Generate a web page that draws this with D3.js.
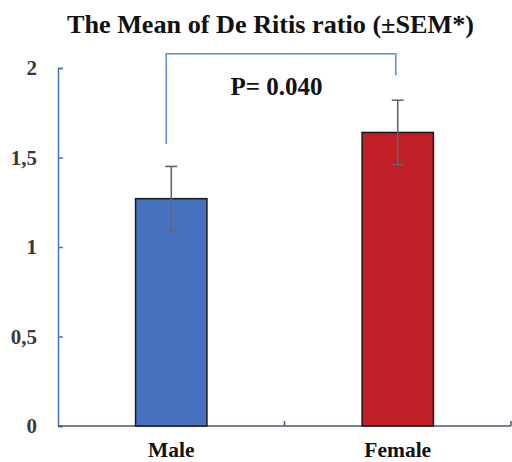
<!DOCTYPE html>
<html><head><meta charset="utf-8">
<script src="https://cdn.jsdelivr.net/npm/d3@7"></script>
<style>body{margin:0;background:#fff}svg{display:block}
text{font-family:"Liberation Serif","Times New Roman",Times,"DejaVu Serif",serif;font-weight:bold}</style>
</head><body>
<script>
const categories = ["Male", "Female"];
const means = [1.27, 1.64];
const sems = [0.18, 0.18];
const barColors = ["#4672c0", "#c01f27"];
const yTicks = [0, 0.5, 1, 1.5, 2];
const title = "The Mean of De Ritis ratio (\u00b1SEM*)";
const pLabel = "P= 0.040";
const bracketLevels = [1.575, 2.08, 1.96];

const W = 512, H = 462;
const svg = d3.select("body").append("svg").attr("width", W).attr("height", H);

const x = d3.scaleBand().domain(categories).range([58, 511]).padding(0);
const y = d3.scaleLinear().domain([0, 2]).range([426, 68]);
const loc = d3.formatLocale({decimal: ",", thousands: ".", grouping: [3], currency: ["", ""]});
const fmt = loc.format("~g");

// title
svg.append("text").attr("x", 270.5).attr("y", 33).attr("text-anchor", "middle")
  .style("font-size", "26.2px").attr("fill", "#111").text(title);

// y axis
const yAxis = svg.append("g").attr("transform", `translate(${x.range()[0]},0)`)
  .call(d3.axisLeft(y).tickValues(yTicks).tickSize(-5).tickPadding(21).tickFormat(fmt));
yAxis.attr("font-family", null).attr("font-size", null);
yAxis.select(".domain").attr("stroke", "#4472c4").attr("stroke-width", 1.5);
yAxis.selectAll(".tick line").attr("stroke", "#4472c4").attr("stroke-width", 1.5);
yAxis.selectAll(".tick text").style("font-size", "21px").attr("fill", "#3a3a3a");

// x axis
const xAxisG = svg.append("g").attr("transform", `translate(0,${y(0)})`);
xAxisG.append("line").attr("x1", x.range()[0]).attr("x2", x.range()[1])
  .attr("stroke", "#4a5a70").attr("stroke-width", 1.5);
xAxisG.selectAll("line.tk").data(categories).join("line").attr("class", "tk")
  .attr("x1", d => x(d) + x.bandwidth()).attr("x2", d => x(d) + x.bandwidth())
  .attr("y1", 0).attr("y2", -5).attr("stroke", "#4a5a70").attr("stroke-width", 1.5);
xAxisG.selectAll("text").data(categories).join("text")
  .attr("x", d => x(d) + x.bandwidth() / 2).attr("y", 31).attr("text-anchor", "middle")
  .style("font-size", "21.5px").attr("fill", "#111").text(d => d);

// bars
const bw = x.bandwidth() * 0.315;
const cx = d => x(d) + x.bandwidth() / 2;
svg.selectAll("rect.bar").data(categories).join("rect").attr("class", "bar")
  .attr("x", d => cx(d) - bw / 2).attr("width", bw)
  .attr("y", (d, i) => y(means[i])).attr("height", (d, i) => y(0) - y(means[i]))
  .attr("fill", (d, i) => barColors[i]).attr("stroke", "#1a1a1a").attr("stroke-width", 1.5);

// error bars
const eb = svg.append("g").attr("stroke", "#666").attr("stroke-width", 1.6);
categories.forEach((c, i) => {
  const hi = y(means[i] + sems[i]), lo = y(means[i] - sems[i]);
  eb.append("line").attr("x1", cx(c)).attr("x2", cx(c)).attr("y1", hi).attr("y2", lo);
  eb.append("line").attr("x1", cx(c) - 6).attr("x2", cx(c) + 6).attr("y1", hi).attr("y2", hi);
  eb.append("line").attr("x1", cx(c) - 6).attr("x2", cx(c) + 6).attr("y1", lo).attr("y2", lo);
});

// significance bracket
const bx1 = cx(categories[0]) - 5, bx2 = cx(categories[1]) - 2;
svg.append("path")
  .attr("d", `M${bx1},${y(bracketLevels[0])}V${y(bracketLevels[1])}H${bx2}V${y(bracketLevels[2])}`)
  .attr("fill", "none").attr("stroke", "#5b8fd6").attr("stroke-width", 1.6);
svg.append("text").attr("x", 276.5).attr("y", 95).attr("text-anchor", "middle")
  .style("font-size", "25px").attr("fill", "#111").text(pLabel);
</script>
</body></html>
